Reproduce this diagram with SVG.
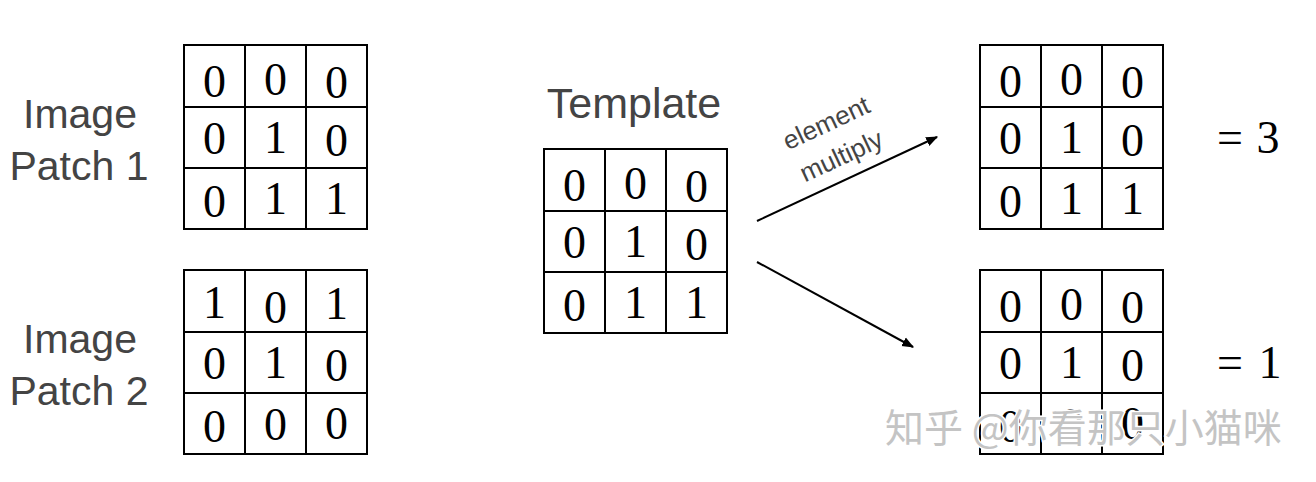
<svg xmlns="http://www.w3.org/2000/svg" xmlns:xlink="http://www.w3.org/1999/xlink" width="1316" height="482" viewBox="0 0 1316 482">
<style>
.cell{fill:none;stroke:#000;stroke-width:2}
.d{font-family:"Liberation Serif","DejaVu Serif",serif;font-size:46px;fill:#000;text-anchor:middle}
.lbl{font-family:"Liberation Sans","Helvetica",sans-serif;font-size:41px;fill:#444;text-anchor:middle}
.small{font-family:"Liberation Sans","Helvetica",sans-serif;font-size:26px;fill:#444;text-anchor:middle}
.conn{stroke:#000;stroke-width:2;fill:none}
.wm{font-family:"Noto Sans CJK SC","Liberation Sans",sans-serif;font-size:39px;fill:#c4c4c4;stroke:#fff;stroke-width:3;paint-order:stroke}
</style>
<defs>
<g id="grid">
<rect class="cell" x="0" y="0" width="183" height="184"/>
<line class="cell" x1="61" y1="0" x2="61" y2="184"/>
<line class="cell" x1="122" y1="0" x2="122" y2="184"/>
<line class="cell" x1="0" y1="62" x2="183" y2="62"/>
<line class="cell" x1="0" y1="123" x2="183" y2="123"/>
</g>
<marker id="ah" viewBox="0 0 10 10" refX="9" refY="5" markerWidth="6" markerHeight="6" orient="auto" markerUnits="strokeWidth">
<path d="M0,1 L10,5 L0,9 z" fill="#000"/>
</marker>
</defs>
<rect width="1316" height="482" fill="#fff"/>

<g id="patch1">
<text class="lbl" x="80" y="128">Image</text>
<text class="lbl" x="79" y="180">Patch 1</text>
<use xlink:href="#grid" x="184" y="45"/>
<g class="d" transform="translate(184,45)">
<text x="30.5" y="52">0</text><text x="91.5" y="50">0</text><text x="152.5" y="53">0</text>
<text x="30.5" y="109">0</text><text x="91.5" y="108">1</text><text x="152.5" y="111">0</text>
<text x="30.5" y="172">0</text><text x="91.5" y="169">1</text><text x="152.5" y="169">1</text>
</g>
</g>

<g id="patch2">
<text class="lbl" x="80" y="353">Image</text>
<text class="lbl" x="79" y="405">Patch 2</text>
<use xlink:href="#grid" x="184" y="270"/>
<g class="d" transform="translate(184,270)">
<text x="30.5" y="48">1</text><text x="91.5" y="53">0</text><text x="152.5" y="49">1</text>
<text x="30.5" y="109">0</text><text x="91.5" y="108">1</text><text x="152.5" y="111">0</text>
<text x="30.5" y="172">0</text><text x="91.5" y="170">0</text><text x="152.5" y="169">0</text>
</g>
</g>

<g id="template">
<text class="lbl" x="634" y="118" style="font-size:43px">Template</text>
<use xlink:href="#grid" x="544" y="149"/>
<g class="d" transform="translate(544,149)">
<text x="30.5" y="52">0</text><text x="91.5" y="50">0</text><text x="152.5" y="53">0</text>
<text x="30.5" y="109">0</text><text x="91.5" y="108">1</text><text x="152.5" y="111">0</text>
<text x="30.5" y="172">0</text><text x="91.5" y="169">1</text><text x="152.5" y="169">1</text>
</g>
</g>

<g id="result1">
<use xlink:href="#grid" x="980" y="45"/>
<g class="d" transform="translate(980,45)">
<text x="30.5" y="52">0</text><text x="91.5" y="50">0</text><text x="152.5" y="53">0</text>
<text x="30.5" y="109">0</text><text x="91.5" y="108">1</text><text x="152.5" y="111">0</text>
<text x="30.5" y="172">0</text><text x="91.5" y="169">1</text><text x="152.5" y="169">1</text>
</g>
<text class="d" x="1230" y="153">=</text>
<text class="d" x="1268" y="153">3</text>
</g>

<g id="result2">
<use xlink:href="#grid" x="980" y="270"/>
<g class="d" transform="translate(980,270)">
<text x="30.5" y="52">0</text><text x="91.5" y="50">0</text><text x="152.5" y="53">0</text>
<text x="30.5" y="109">0</text><text x="91.5" y="108">1</text><text x="152.5" y="111">0</text>
<text x="30.5" y="172">0</text><text x="91.5" y="170">0</text><text x="152.5" y="169">0</text>
</g>
<text class="d" x="1230" y="378">=</text>
<text class="d" x="1270" y="378">1</text>
</g>

<g id="connectors">
<line class="conn" x1="757" y1="221" x2="937" y2="137" marker-end="url(#ah)"/>
<line class="conn" x1="757" y1="262" x2="913" y2="347" marker-end="url(#ah)"/>
<text class="small" transform="translate(830,131) rotate(-25)">element</text>
<text class="small" transform="translate(845,164) rotate(-25)">multiply</text>
</g>

<text class="wm" x="885" y="442">知乎 @你看那只小猫咪</text>
</svg>
